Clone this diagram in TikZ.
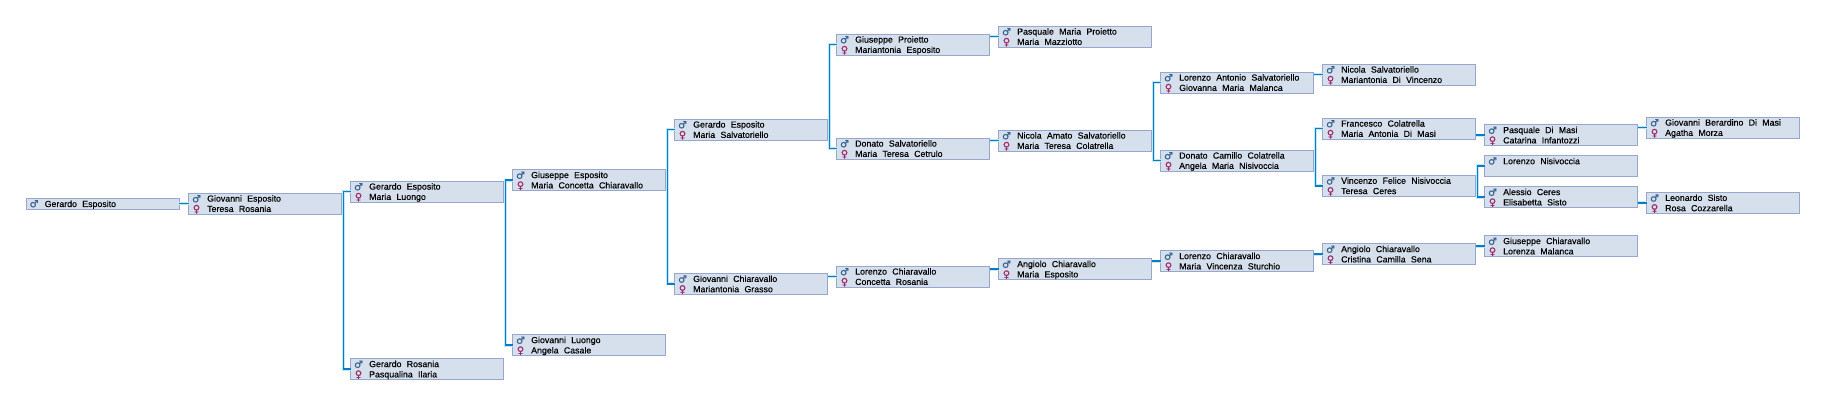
\documentclass[tikz,border=0pt]{standalone}
\usepackage{fontspec}
\setmainfont{Liberation Sans}
\newfontfamily\namefam[RawFeature={embolden=0.35}]{Liberation Sans}
\newfontfamily\symfont[RawFeature={embolden=0.8}]{DejaVu Sans}
\usetikzlibrary{calc}
\definecolor{boxfill}{HTML}{D6E0EC}
\definecolor{boxline}{HTML}{98A6CC}
\definecolor{linkblue}{HTML}{0A7CC4}
\definecolor{halo}{HTML}{BFE9F8}
\definecolor{malec}{HTML}{35628F}
\definecolor{femalec}{HTML}{9C2468}
\newcommand{\namefont}{\namefam\fontsize{8.8}{10}\selectfont\spaceskip 5.3pt\relax}
\tikzset{
  every node/.style={inner sep=0pt,outer sep=0pt},
  fam/.style={draw=boxline,fill=boxfill,line width=0.9pt,anchor=north west,minimum width=153pt},
  pname/.style={anchor=base west,font=\namefont,text=black},
  msym/.style={anchor=center,font=\symfont\fontsize{10}{10}\selectfont,text=malec},
  fsym/.style={anchor=center,font=\symfont\fontsize{10}{10}\selectfont,text=femalec},
  link/.style={draw=linkblue,line width=1.5pt,preaction={draw=halo,line width=3pt}}
}
\newcommand{\couple}[5]{%
  \node[fam,minimum height=21.3pt] (#1) at (#2,#3) {};
  \node[msym] (#1m) at ($(#1.north west)+(8,5.8)$) {♂};
  \node[fsym] (#1f) at ($(#1.north west)+(8,16.2)$) {♀};
  \node[pname] (#1h) at ($(#1.north west)+(18.7,8.6)$) {#4};
  \node[pname] (#1w) at ($(#1.north west)+(18.7,18.9)$) {#5};
}
\newcommand{\onlyman}[5]{%
  \node[fam,minimum height=#5pt] (#1) at (#2,#3) {};
  \node[msym] (#1m) at ($(#1.north west)+(8,5.8)$) {♂};
  \node[pname] (#1h) at ($(#1.north west)+(18.7,9)$) {#4};
}
\newcommand{\single}[2]{\draw[link] (#1.east |- #2.west) -- (#2.west);}
\newcommand{\forked}[3]{\coordinate (#1e) at ($(#1.east)+(2,0)$);
  \draw[link] (#2.west) -| (#1e) |- (#3.west);}
\begin{document}
\begin{tikzpicture}[x=1pt,y=-1pt]
\useasboundingbox (0,0) rectangle (1826,406);
\onlyman{a}{26}{198}{Gerardo Esposito}{11.5}
\couple{b}{188.5}{193}{Giovanni Esposito}{Teresa Rosania}
\couple{c}{350.5}{181}{Gerardo Esposito}{Maria Luongo}
\couple{d}{350.5}{358.5}{Gerardo Rosania}{Pasqualina Ilaria}
\couple{e}{512.5}{169.5}{Giuseppe Esposito}{Maria Concetta Chiaravallo}
\couple{f}{512.5}{334.5}{Giovanni Luongo}{Angela Casale}
\couple{g}{674.5}{119}{Gerardo Esposito}{Maria Salvatoriello}
\couple{h}{674.5}{273.3}{Giovanni Chiaravallo}{Mariantonia Grasso}
\couple{i}{836.5}{34}{Giuseppe Proietto}{Mariantonia Esposito}
\couple{j}{836.5}{138}{Donato Salvatoriello}{Maria Teresa Cetrulo}
\couple{k}{836.5}{266}{Lorenzo Chiaravallo}{Concetta Rosania}
\couple{l}{998.5}{26}{Pasquale Maria Proietto}{Maria Mazziotto}
\couple{m}{998.5}{130}{Nicola Amato Salvatoriello}{Maria Teresa Colatrella}
\couple{n}{998.5}{258.5}{Angiolo Chiaravallo}{Maria Esposito}
\couple{o}{1160.5}{72}{Lorenzo Antonio Salvatoriello}{Giovanna Maria Malanca}
\couple{p}{1160.5}{150}{Donato Camillo Colatrella}{Angela Maria Nisivoccia}
\couple{q}{1160.5}{250.5}{Lorenzo Chiaravallo}{Maria Vincenza Sturchio}
\couple{r}{1322.5}{64}{Nicola Salvatoriello}{Mariantonia Di Vincenzo}
\couple{s}{1322.5}{118}{Francesco Colatrella}{Maria Antonia Di Masi}
\couple{t}{1322.5}{175.2}{Vincenzo Felice Nisivoccia}{Teresa Ceres}
\couple{u}{1322.5}{243.5}{Angiolo Chiaravallo}{Cristina Camilla Sena}
\couple{v}{1484.5}{124.5}{Pasquale Di Masi}{Catarina Infantozzi}
\onlyman{w}{1484.5}{155.2}{Lorenzo Nisivoccia}{21.3}
\couple{x}{1484.5}{186.5}{Alessio Ceres}{Elisabetta Sisto}
\couple{y}{1484.5}{235.5}{Giuseppe Chiaravallo}{Lorenza Malanca}
\couple{z}{1646.5}{117}{Giovanni Berardino Di Masi}{Agatha Morza}
\couple{zz}{1646.5}{192.3}{Leonardo Sisto}{Rosa Cozzarella}
\single{a}{b}
\forked{b}{c}{d}
\forked{c}{e}{f}
\forked{e}{g}{h}
\forked{g}{i}{j}
\single{h}{k}
\single{i}{l}
\single{j}{m}
\single{k}{n}
\forked{m}{o}{p}
\single{n}{q}
\single{o}{r}
\forked{p}{s}{t}
\single{q}{u}
\single{s}{v}
\forked{t}{w}{x}
\single{u}{y}
\single{v}{z}
\single{x}{zz}
\end{tikzpicture}
\end{document}
